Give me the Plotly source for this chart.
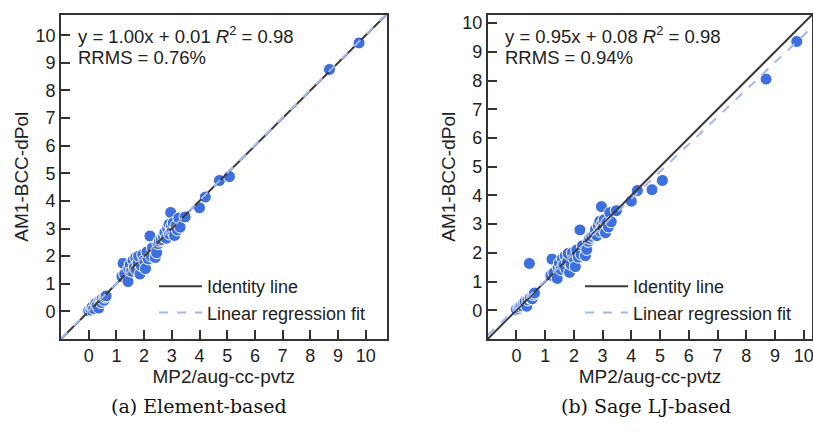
import plotly.graph_objects as go

# MP2/aug-cc-pvtz reference values (shared x)
mp2 = [0.00, 0.08, 0.12, 0.18, 0.25, 0.30, 0.36, 0.40, 0.45, 0.48, 0.55, 0.58, 0.63,
       1.20, 1.24, 1.30, 1.42, 1.45, 1.50, 1.55, 1.60, 1.65, 1.70, 1.72, 1.78, 1.80,
       1.85, 1.90, 1.95, 2.00, 2.05, 2.10, 2.15, 2.21, 2.25, 2.30, 2.40, 2.45, 2.50,
       2.55, 2.62, 2.70, 2.75, 2.80, 2.85, 2.90, 2.92, 2.96, 2.98, 3.00, 3.05, 3.10,
       3.15, 3.20, 3.25, 3.30, 3.48, 4.00, 4.21, 4.72, 5.08, 8.69, 9.76]
# AM1-BCC-dPol, element-based
am1_elem = [0.02, 0.05, 0.15, 0.10, 0.28, 0.22, 0.12, 0.38, 0.32, 0.45, 0.40, 0.52, 0.56,
            1.26, 1.74, 1.35, 1.08, 1.55, 1.70, 1.45, 1.85, 1.60, 1.95, 1.50, 1.75, 2.00,
            1.35, 1.65, 2.05, 1.85, 1.55, 2.15, 1.90, 2.73, 2.00, 2.30, 1.95, 2.12, 2.45,
            2.55, 2.60, 2.70, 2.85, 2.65, 3.00, 3.15, 2.80, 3.58, 3.05, 2.90, 3.20, 2.75,
            3.10, 2.95, 3.38, 3.05, 3.42, 3.75, 4.14, 4.74, 4.88, 8.76, 9.72]
# AM1-BCC-dPol, Sage LJ-based
am1_sage = [0.03, 0.06, 0.12, 0.16, 0.25, 0.30, 0.14, 0.36, 1.63, 0.42, 0.40, 0.55, 0.60,
            1.22, 1.78, 1.30, 1.11, 1.50, 1.65, 1.42, 1.80, 1.58, 1.90, 1.45, 1.70, 1.98,
            1.32, 1.60, 2.00, 1.80, 1.52, 2.10, 1.85, 2.80, 1.95, 2.25, 1.90, 2.12, 2.40,
            2.50, 2.58, 2.65, 2.80, 2.60, 2.95, 3.10, 2.75, 3.61, 3.00, 2.85, 3.15, 2.70,
            3.05, 2.90, 3.40, 3.08, 3.47, 3.80, 4.17, 4.20, 4.52, 8.05, 9.36]

slopes = [1.00, 0.95]
intercepts = [0.01, 0.08]
r2 = [0.98, 0.98]
rrms = ["0.76%", "0.94%"]
ranges = [[-1, 10.75], [-1, 10.3]]
captions = ["(a) Element-based", "(b) Sage LJ-based"]
tick_vals = list(range(0, 11))

FONT = "Liberation Sans"
fig = go.Figure()

doms_x = [[61 / 813, 386.5 / 813], [487.7 / 813, 812.3 / 813]]
dom_y = [1 - 339 / 435, 1 - 14.5 / 435]

ys = [am1_elem, am1_sage]
for i in range(2):
    xa = "x" if i == 0 else "x2"
    ya = "y" if i == 0 else "y2"
    lg = "legend" if i == 0 else "legend2"
    lo, hi = ranges[i]
    fig.add_trace(go.Scatter(x=mp2, y=ys[i], mode="markers", xaxis=xa, yaxis=ya,
                             marker=dict(size=12, color="#3d6fdf",
                                         line=dict(color="white", width=1)),
                             showlegend=False))
    fig.add_trace(go.Scatter(x=[lo, hi], y=[lo, hi], mode="lines", xaxis=xa, yaxis=ya,
                             line=dict(color="#3a3a3a", width=2), name="Identity line",
                             legend=lg))
    fig.add_trace(go.Scatter(x=[lo, hi],
                             y=[slopes[i] * lo + intercepts[i], slopes[i] * hi + intercepts[i]],
                             mode="lines", xaxis=xa, yaxis=ya,
                             line=dict(color="#a3b8f2", width=2, dash="dash"),
                             name="Linear regression fit", legend=lg))

axis_common = dict(showline=True, linecolor="#333333", linewidth=1.6, mirror=True,
                   ticks="inside", ticklen=9, tickwidth=1.5, tickcolor="#333333",
                   tickvals=tick_vals, showgrid=False, zeroline=False, automargin=False,
                   ticklabeloverflow="allow",
                   tickfont=dict(family=FONT, size=18, color="#222222"),
                   title_font=dict(family=FONT, size=19, color="#222222"))

leg_common = dict(xanchor="left", yanchor="top", bgcolor="rgba(255,255,255,0)",
                  font=dict(family=FONT, size=18, color="#222222"), tracegroupgap=0,
                  itemwidth=43)

fig.update_layout(
    width=813, height=435, margin=dict(l=0, r=0, t=0, b=0),
    plot_bgcolor="white", paper_bgcolor="white",
    xaxis=dict(domain=doms_x[0], range=ranges[0], anchor="y",
               title=dict(text="MP2/aug-cc-pvtz", standoff=4), **axis_common),
    yaxis=dict(domain=dom_y, range=ranges[0], anchor="x",
               title=dict(text="AM1-BCC-dPol", standoff=2), **axis_common),
    xaxis2=dict(domain=doms_x[1], range=ranges[1], anchor="y2",
                title=dict(text="MP2/aug-cc-pvtz", standoff=4), **axis_common),
    yaxis2=dict(domain=dom_y, range=ranges[1], anchor="x2",
                title=dict(text="AM1-BCC-dPol", standoff=2), **axis_common),
    legend=dict(x=154 / 813, y=1 - 268 / 435, **leg_common),
    legend2=dict(x=580 / 813, y=1 - 268 / 435, **leg_common),
)

anns = []
txt_x = [76, 503]
cap_x = [199, 646]
for i in range(2):
    anns.append(dict(xref="paper", yref="paper", x=txt_x[i] / 813, y=1 - 35 / 435,
                     xanchor="left", yanchor="middle", showarrow=False,
                     text=f"y = {slopes[i]:.2f}x + {intercepts[i]:.2f} <i>R</i><sup>2</sup> = {r2[i]:.2f}",
                     font=dict(family=FONT, size=18.5, color="#222222")))
    anns.append(dict(xref="paper", yref="paper", x=txt_x[i] / 813, y=1 - 57 / 435,
                     xanchor="left", yanchor="middle", showarrow=False,
                     text=f"RRMS = {rrms[i]}",
                     font=dict(family=FONT, size=18.5, color="#222222")))
    anns.append(dict(xref="paper", yref="paper", x=cap_x[i] / 813, y=1 - 406 / 435,
                     xanchor="center", yanchor="middle", showarrow=False,
                     text=captions[i],
                     font=dict(family="DejaVu Serif", size=19, color="#111111")))
fig.update_layout(annotations=anns)

fig.write_html("out.html", config={"displayModeBar": False},
               post_script="document.body.style.margin='0';")
